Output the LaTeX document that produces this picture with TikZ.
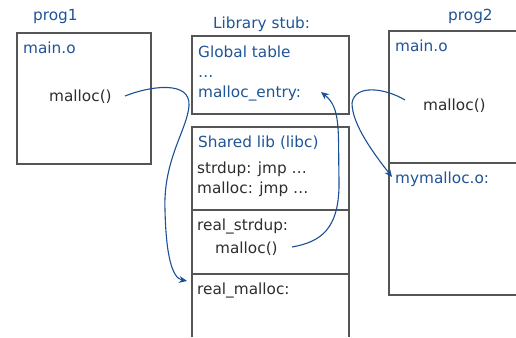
\documentclass[tikz,border=0pt]{standalone}
\usepackage{fontspec}
\setmainfont{DejaVu Sans}
\usetikzlibrary{arrows.meta}
\definecolor{tblue}{RGB}{31,84,150}
\definecolor{ablue}{RGB}{28,80,148}
\definecolor{tgray}{RGB}{45,45,45}
\definecolor{bgray}{RGB}{85,85,85}
\begin{document}
\begin{tikzpicture}[x=1pt,y=-1pt,
  lbl/.style={anchor=base west,inner sep=0pt,font=\fontsize{15.3}{18}\selectfont},
  bl/.style={lbl,text=tblue},
  gr/.style={lbl,text=tgray},
  boxline/.style={draw=bgray,line width=1.1pt},
  conn/.style={draw=ablue,line width=1.1pt,-{Stealth[length=8pt,width=7pt]}}]
\useasboundingbox (0,0) rectangle (516,337);
% boxes
\draw[boxline] (17,33) rectangle (151,164);
\draw[boxline] (192,36) rectangle (349,114);
\draw[boxline] (192,337) -- (192,127) -- (349,127) -- (349,337);
\draw[boxline] (192,210) -- (349,210);
\draw[boxline] (192,274) -- (349,274);
\draw[boxline] (520,31) -- (389,31) -- (389,295) -- (520,295);
\draw[boxline] (389,163) -- (520,163);
% texts
\node[bl] (p1) at (33,21) {prog1};
\node[bl] (m1) at (23,54) {main.o};
\node[gr] (c1) at (49,101) {malloc()};
\node[bl] (ls) at (213,29) {Library stub:};
\node[bl] (gt) at (198,57) {Global table};
\node[bl] (dots) at (198,77) {…};
\node[bl] (me) at (198,97) {malloc\_entry:};
\node[bl] (sl) at (198,147) {Shared lib (libc)};
\node[gr] (sd) at (197,173) {strdup: jmp …};
\node[gr] (mj) at (197,193) {malloc: jmp …};
\node[gr] (rs) at (197,230) {real\_strdup:};
\node[gr] (c2) at (215,253) {malloc()};
\node[gr] (rm) at (197,294) {real\_malloc:};
\node[bl] (p2) at (448,21) {prog2};
\node[bl] (m2) at (395,52) {main.o};
\node[gr] (c3) at (423,110) {malloc()};
\node[bl] (mm) at (395,183) {mymalloc.o:};
% connector ends
\coordinate (a1s) at (125,96);
\coordinate (a1e) at (187,281);
\coordinate (a2s) at (292,247);
\coordinate (a2e) at (321,92);
\coordinate (a3s) at (405,100);
\coordinate (a3e) at (392,177);
% connectors
\draw[conn] (a1s) .. controls (150,86) and (191,80) .. (189,106)
  .. controls (187,130) and (163,160) .. (165,210)
  .. controls (166,255) and (172,278) .. (a1e);
\draw[conn] (a2s) .. controls (320,242) and (340,230) .. (339,180)
  .. controls (338,130) and (341,108) .. (a2e);
\draw[conn] (a3s) .. controls (385,88) and (355,84) .. (352,103)
  .. controls (352,125) and (375,155) .. (a3e);
\end{tikzpicture}
\end{document}
